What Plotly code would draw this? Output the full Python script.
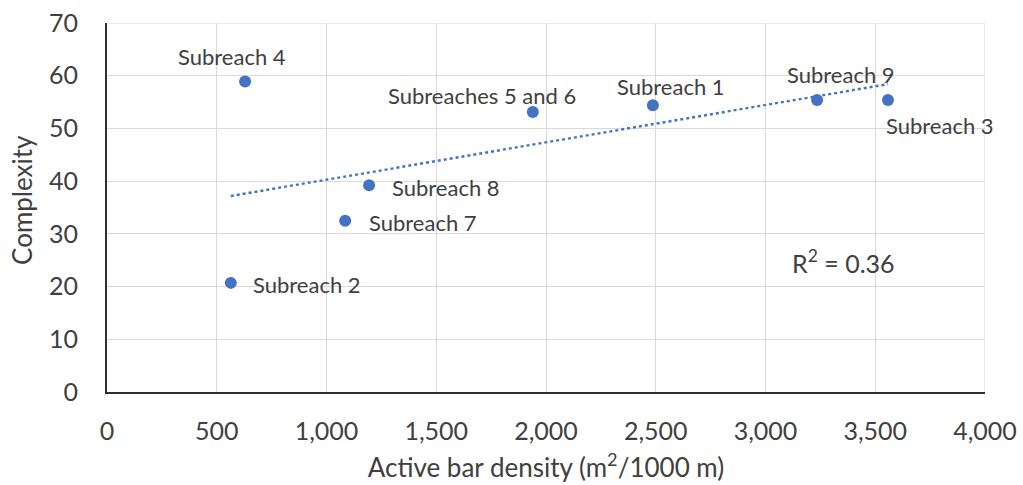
import numpy as np
import plotly.graph_objects as go

names = ["Subreach 4", "Subreach 2", "Subreach 7", "Subreach 8",
         "Subreaches 5 and 6", "Subreach 1", "Subreach 9", "Subreach 3"]
density = [629, 564, 1085, 1194, 1940, 2487, 3235, 3558]
complexity = [58.9, 20.7, 32.5, 39.2, 53.1, 54.4, 55.4, 55.4]
r2_text = "R<sup>2</sup> = 0.36"
x_title = "Active bar density (m<sup>2</sup>/1000 m)"
y_title = "Complexity"

# label offsets (pixels) relative to each point: (xshift, yshift, xanchor)
label_style = [(-13, 25, "center"), (20, -2, "left"), (22, -2, "left"), (21, -2, "left"),
               (-51, 17, "center"), (18, 19, "center"), (24, 25, "center"), (52, -26, "center")]

BLUE = "#4472C4"
TXT = "#404040"
FONT = "Lato, 'Open Sans', sans-serif"

fig = go.Figure()

# linear trendline from data
slope, intercept = np.polyfit(density, complexity, 1)
xt = np.array([min(density), max(density)])
fig.add_trace(go.Scatter(x=xt, y=slope * xt + intercept, mode="lines",
                         line=dict(color=BLUE, width=2.4, dash="dot"),
                         hoverinfo="skip", showlegend=False))

fig.add_trace(go.Scatter(x=density, y=complexity, mode="markers",
                         marker=dict(color=BLUE, size=12),
                         showlegend=False))

for n, xv, yv, (dx, dy, xa) in zip(names, density, complexity, label_style):
    fig.add_annotation(x=xv, y=yv, text=n, showarrow=False, xanchor=xa,
                       xshift=dx, yshift=dy,
                       font=dict(family=FONT, size=22, color=TXT))

fig.add_annotation(x=3355, y=24.7, text=r2_text, showarrow=False,
                   font=dict(family=FONT, size=25, color=TXT))

# y-axis title as annotation for precise placement
fig.add_annotation(xref="paper", yref="paper", x=-0.097, y=0.52, text=y_title,
                   textangle=-90, showarrow=False, xanchor="center", yanchor="middle",
                   font=dict(family=FONT, size=26, color=TXT))

fig.update_layout(
    width=1023, height=485,
    margin=dict(l=107, r=38, t=23, b=93),
    paper_bgcolor="white", plot_bgcolor="white",
    font=dict(family=FONT, color=TXT),
    xaxis=dict(range=[0, 4000], dtick=500, tickformat=",d", automargin=False,
               showgrid=True, gridcolor="#d9d9d9", gridwidth=1,
               showline=True, linecolor="#303030", linewidth=2,
               zeroline=False, ticks="outside", ticklen=16,
               tickcolor="rgba(0,0,0,0)",
               tickfont=dict(size=25, color=TXT),
               title=dict(text=x_title, font=dict(size=26, color=TXT))),
    yaxis=dict(range=[0, 70], dtick=10, automargin=False,
               showgrid=True, gridcolor="#d9d9d9", gridwidth=1,
               showline=True, linecolor="#303030", linewidth=2,
               zeroline=False, ticks="outside", ticklen=22,
               tickcolor="rgba(0,0,0,0)",
               tickfont=dict(size=25, color=TXT)),
)
fig.add_shape(type="line", xref="x", yref="y", x0=4000, x1=4000, y0=0, y1=70,
              line=dict(color="#d9d9d9", width=1), layer="below")
fig.add_shape(type="line", xref="x", yref="y", x0=0, x1=4000, y0=70, y1=70,
              line=dict(color="#d9d9d9", width=1), layer="below")

fig.write_html("out.html")
